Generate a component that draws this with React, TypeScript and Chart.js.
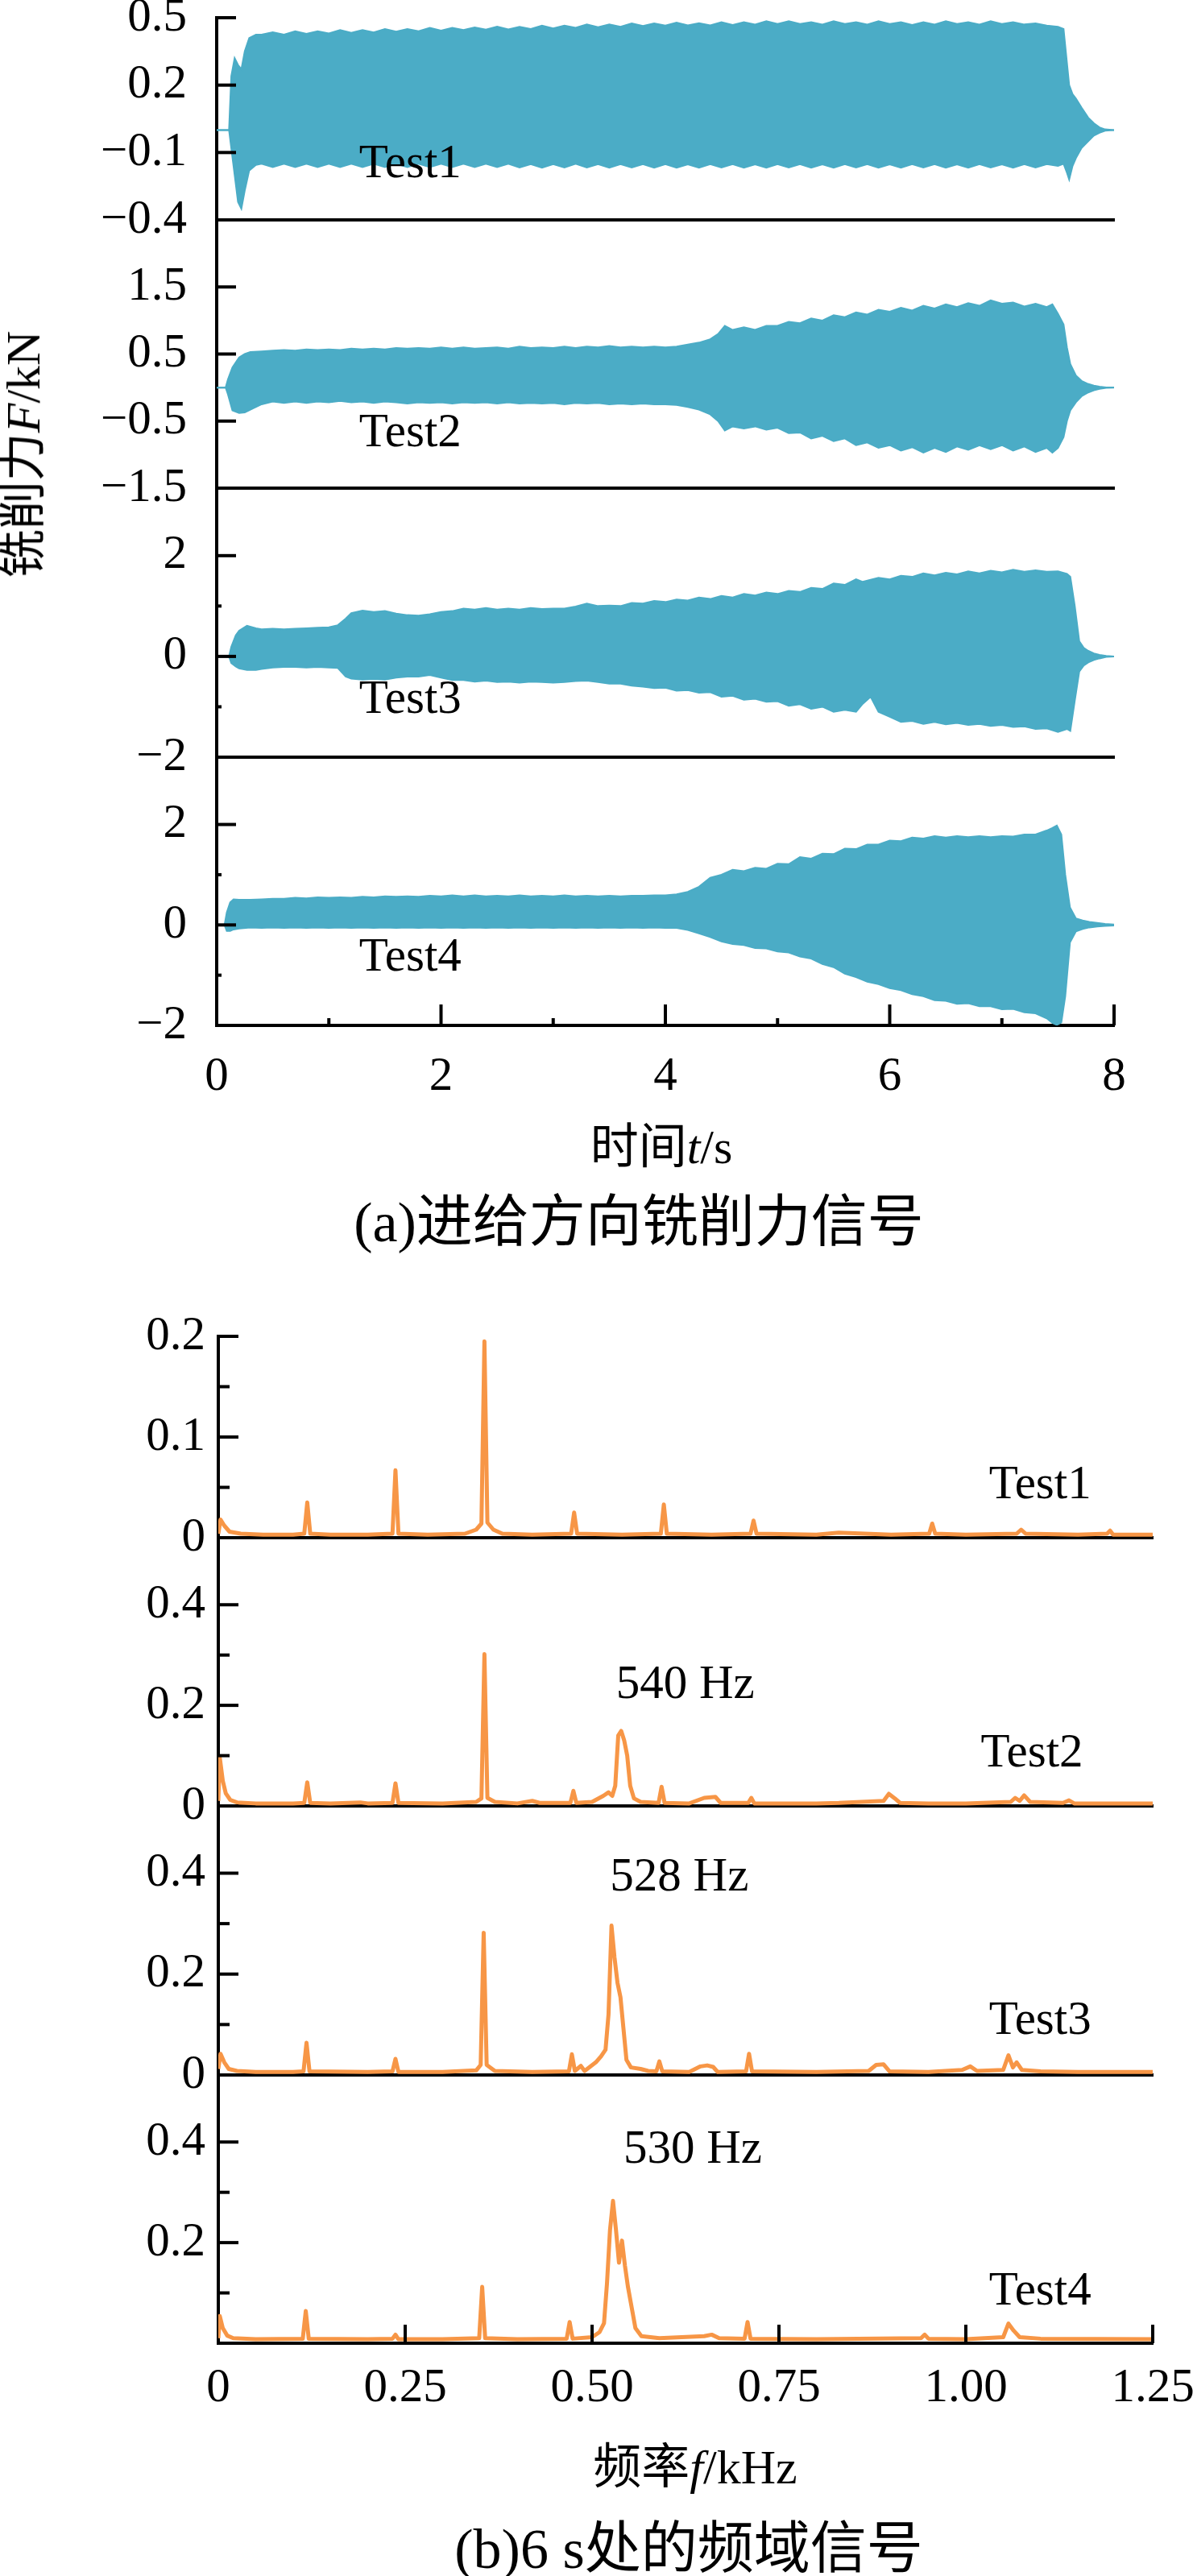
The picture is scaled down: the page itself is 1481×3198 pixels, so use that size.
import React, { useEffect, useRef } from "react";
import { Chart, registerables } from "chart.js";

Chart.register(...registerables);

const SERIF = '"Liberation Serif", "Times New Roman", serif';
const MIXED = '"Liberation Serif", "Noto Sans CJK SC", serif';
const BLUE = "#4bacc6";
const ORANGE = "#f79646";

// cutting force envelopes: [time s, upper kN, lower kN]
const test1Force = [
  [0, 0, 0], [0.11, 0, 0], [0.13, 0.24, -0.08], [0.16, 0.32, -0.2], [0.19, 0.29, -0.32],
  [0.22, 0.27, -0.35], [0.25, 0.35, -0.27], [0.29, 0.41, -0.18], [0.35, 0.425, -0.155],
  [0.4, 0.425, -0.15], [0.5, 0.435, -0.165], [0.6, 0.425, -0.15], [0.7, 0.44, -0.165],
  [0.8, 0.428, -0.15], [0.9, 0.44, -0.165], [1.0, 0.43, -0.15], [1.1, 0.445, -0.165],
  [1.2, 0.433, -0.15], [1.3, 0.445, -0.165], [1.4, 0.435, -0.15], [1.5, 0.45, -0.165],
  [1.6, 0.438, -0.15], [1.7, 0.45, -0.165], [1.8, 0.44, -0.15], [1.9, 0.455, -0.165],
  [2.0, 0.443, -0.15], [2.1, 0.455, -0.165], [2.2, 0.445, -0.15], [2.3, 0.457, -0.165],
  [2.4, 0.447, -0.15], [2.5, 0.46, -0.165], [2.6, 0.448, -0.15], [2.7, 0.46, -0.167],
  [2.8, 0.45, -0.152], [2.9, 0.465, -0.168], [3.0, 0.453, -0.152], [3.1, 0.465, -0.167],
  [3.2, 0.455, -0.15], [3.3, 0.47, -0.167], [3.4, 0.458, -0.152], [3.5, 0.47, -0.168],
  [3.6, 0.46, -0.152], [3.7, 0.475, -0.167], [3.8, 0.463, -0.152], [3.9, 0.475, -0.168],
  [4.0, 0.465, -0.152], [4.1, 0.478, -0.168], [4.2, 0.466, -0.153], [4.3, 0.476, -0.168],
  [4.4, 0.466, -0.152], [4.5, 0.48, -0.167], [4.6, 0.468, -0.152], [4.7, 0.48, -0.168],
  [4.8, 0.47, -0.153], [4.9, 0.485, -0.168], [5.0, 0.472, -0.152], [5.1, 0.485, -0.167],
  [5.2, 0.472, -0.152], [5.3, 0.48, -0.168], [5.4, 0.47, -0.153], [5.5, 0.485, -0.168],
  [5.6, 0.472, -0.152], [5.7, 0.48, -0.167], [5.8, 0.47, -0.152], [5.9, 0.485, -0.168],
  [6.0, 0.472, -0.153], [6.1, 0.48, -0.168], [6.2, 0.468, -0.152], [6.3, 0.48, -0.167],
  [6.4, 0.47, -0.152], [6.5, 0.485, -0.168], [6.6, 0.472, -0.153], [6.7, 0.48, -0.168],
  [6.8, 0.47, -0.152], [6.9, 0.485, -0.167], [7.0, 0.472, -0.153], [7.1, 0.48, -0.168],
  [7.2, 0.47, -0.152], [7.3, 0.475, -0.167], [7.4, 0.465, -0.152], [7.5, 0.46, -0.16],
  [7.55, 0.45, -0.15], [7.58, 0.3, -0.19], [7.6, 0.2, -0.22], [7.63, 0.16, -0.16],
  [7.66, 0.14, -0.125], [7.71, 0.1, -0.08], [7.77, 0.055, -0.05], [7.82, 0.03, -0.025],
  [7.87, 0.012, -0.012], [7.92, 0.003, -0.003], [8.0, 0, 0],
];

const test2Force = [
  [0, 0, 0], [0.08, 0, 0], [0.1, 0.12, -0.1], [0.14, 0.3, -0.34], [0.2, 0.45, -0.38],
  [0.25, 0.5, -0.37], [0.3, 0.53, -0.33], [0.4, 0.54, -0.25], [0.5, 0.55, -0.21],
  [0.6, 0.56, -0.23], [0.7, 0.55, -0.21], [0.8, 0.57, -0.23], [0.9, 0.56, -0.21],
  [1.0, 0.57, -0.22], [1.1, 0.56, -0.2], [1.2, 0.58, -0.22], [1.3, 0.57, -0.21],
  [1.4, 0.58, -0.23], [1.5, 0.57, -0.21], [1.6, 0.59, -0.22], [1.7, 0.58, -0.24],
  [1.8, 0.59, -0.22], [1.9, 0.58, -0.23], [2.0, 0.6, -0.22], [2.1, 0.58, -0.24],
  [2.2, 0.6, -0.22], [2.3, 0.58, -0.23], [2.4, 0.59, -0.22], [2.5, 0.6, -0.24],
  [2.6, 0.58, -0.22], [2.7, 0.61, -0.24], [2.8, 0.59, -0.23], [2.9, 0.6, -0.24],
  [3.0, 0.59, -0.23], [3.1, 0.61, -0.25], [3.2, 0.59, -0.23], [3.3, 0.61, -0.24],
  [3.4, 0.6, -0.23], [3.5, 0.62, -0.25], [3.6, 0.6, -0.24], [3.7, 0.61, -0.25],
  [3.8, 0.6, -0.24], [3.9, 0.61, -0.25], [4.0, 0.6, -0.25], [4.1, 0.61, -0.26],
  [4.2, 0.64, -0.29], [4.3, 0.67, -0.33], [4.4, 0.72, -0.4], [4.47, 0.8, -0.5],
  [4.53, 0.92, -0.64], [4.6, 0.86, -0.58], [4.7, 0.9, -0.61], [4.8, 0.86, -0.58],
  [4.9, 0.92, -0.63], [5.0, 0.92, -0.6], [5.1, 0.98, -0.68], [5.2, 0.96, -0.67],
  [5.3, 1.03, -0.76], [5.4, 1.0, -0.72], [5.5, 1.08, -0.8], [5.6, 1.05, -0.76],
  [5.7, 1.12, -0.86], [5.8, 1.09, -0.82], [5.9, 1.16, -0.9], [6.0, 1.13, -0.86],
  [6.1, 1.19, -0.94], [6.2, 1.15, -0.89], [6.3, 1.22, -0.97], [6.4, 1.18, -0.9],
  [6.5, 1.24, -0.96], [6.6, 1.2, -0.88], [6.7, 1.26, -0.93], [6.8, 1.22, -0.86],
  [6.9, 1.3, -0.92], [7.0, 1.25, -0.86], [7.1, 1.27, -0.94], [7.2, 1.21, -0.88],
  [7.3, 1.25, -0.96], [7.4, 1.2, -0.9], [7.45, 1.24, -0.97], [7.5, 1.1, -0.9],
  [7.55, 0.94, -0.74], [7.58, 0.6, -0.5], [7.61, 0.35, -0.34], [7.66, 0.18, -0.22],
  [7.71, 0.1, -0.13], [7.76, 0.06, -0.08], [7.82, 0.03, -0.04], [7.87, 0.015, -0.02],
  [7.93, 0.003, -0.004], [8.0, 0, 0],
];

const test3Force = [
  [0, 0, 0], [0.11, 0, 0], [0.13, 0.19, -0.13], [0.17, 0.42, -0.2], [0.2, 0.51, -0.24],
  [0.27, 0.61, -0.27], [0.35, 0.56, -0.27], [0.4, 0.54, -0.25], [0.5, 0.55, -0.22],
  [0.6, 0.54, -0.21], [0.7, 0.55, -0.21], [0.8, 0.56, -0.22], [0.9, 0.57, -0.21],
  [1.0, 0.58, -0.22], [1.08, 0.62, -0.23], [1.15, 0.75, -0.4], [1.2, 0.86, -0.44],
  [1.3, 0.91, -0.46], [1.4, 0.88, -0.45], [1.5, 0.9, -0.46], [1.6, 0.85, -0.42],
  [1.7, 0.82, -0.4], [1.8, 0.81, -0.4], [1.9, 0.84, -0.37], [2.0, 0.88, -0.42],
  [2.1, 0.9, -0.47], [2.2, 0.95, -0.47], [2.3, 0.93, -0.5], [2.4, 0.96, -0.48],
  [2.5, 0.93, -0.51], [2.6, 0.95, -0.5], [2.7, 0.93, -0.52], [2.8, 0.96, -0.5],
  [2.9, 0.94, -0.51], [3.0, 0.95, -0.52], [3.1, 0.95, -0.51], [3.2, 0.99, -0.49],
  [3.3, 1.05, -0.48], [3.4, 1.0, -0.51], [3.5, 1.01, -0.54], [3.6, 1.0, -0.54],
  [3.7, 1.06, -0.58], [3.8, 1.05, -0.6], [3.9, 1.1, -0.63], [4.0, 1.08, -0.62],
  [4.1, 1.13, -0.68], [4.2, 1.11, -0.67], [4.3, 1.17, -0.72], [4.4, 1.14, -0.71],
  [4.5, 1.2, -0.8], [4.6, 1.17, -0.78], [4.7, 1.24, -0.86], [4.8, 1.21, -0.84],
  [4.9, 1.27, -0.9], [5.0, 1.24, -0.89], [5.1, 1.3, -0.98], [5.2, 1.28, -0.95],
  [5.3, 1.36, -1.04], [5.4, 1.34, -1.0], [5.5, 1.45, -1.1], [5.6, 1.42, -1.06],
  [5.7, 1.53, -1.1], [5.76, 1.48, -0.94], [5.83, 1.52, -0.8], [5.9, 1.56, -1.1],
  [6.0, 1.53, -1.2], [6.1, 1.6, -1.3], [6.2, 1.58, -1.28], [6.3, 1.65, -1.34],
  [6.4, 1.61, -1.3], [6.5, 1.66, -1.35], [6.6, 1.63, -1.32], [6.7, 1.69, -1.36],
  [6.8, 1.65, -1.34], [6.9, 1.7, -1.38], [7.0, 1.67, -1.36], [7.1, 1.72, -1.4],
  [7.2, 1.68, -1.39], [7.3, 1.71, -1.44], [7.4, 1.68, -1.43], [7.5, 1.69, -1.5],
  [7.58, 1.64, -1.44], [7.61, 1.58, -1.48], [7.65, 1.0, -0.88], [7.69, 0.3, -0.3],
  [7.73, 0.17, -0.18], [7.77, 0.11, -0.12], [7.82, 0.06, -0.07], [7.87, 0.03, -0.04],
  [7.93, 0.01, -0.01], [8.0, 0, 0],
];

const test4Force = [
  [0, 0, 0], [0.07, 0, 0], [0.09, 0.25, -0.12], [0.12, 0.45, -0.12], [0.15, 0.51, -0.09],
  [0.2, 0.5, -0.07], [0.3, 0.5, -0.05], [0.4, 0.51, -0.06], [0.5, 0.52, -0.05],
  [0.6, 0.52, -0.06], [0.7, 0.54, -0.05], [0.8, 0.53, -0.06], [0.9, 0.55, -0.05],
  [1.0, 0.54, -0.06], [1.1, 0.55, -0.05], [1.2, 0.54, -0.06], [1.3, 0.56, -0.05],
  [1.4, 0.55, -0.06], [1.5, 0.57, -0.05], [1.6, 0.56, -0.06], [1.7, 0.57, -0.05],
  [1.8, 0.56, -0.06], [1.9, 0.58, -0.05], [2.0, 0.57, -0.06], [2.1, 0.59, -0.05],
  [2.2, 0.57, -0.06], [2.3, 0.59, -0.05], [2.4, 0.57, -0.06], [2.5, 0.58, -0.05],
  [2.6, 0.57, -0.06], [2.7, 0.59, -0.05], [2.8, 0.57, -0.06], [2.9, 0.58, -0.05],
  [3.0, 0.57, -0.06], [3.1, 0.59, -0.05], [3.2, 0.57, -0.06], [3.3, 0.58, -0.05],
  [3.4, 0.57, -0.06], [3.5, 0.58, -0.05], [3.6, 0.57, -0.06], [3.7, 0.58, -0.05],
  [3.8, 0.58, -0.06], [3.9, 0.59, -0.05], [4.0, 0.59, -0.06], [4.1, 0.61, -0.06],
  [4.2, 0.66, -0.1], [4.3, 0.76, -0.17], [4.4, 0.94, -0.24], [4.5, 1.0, -0.33],
  [4.6, 1.1, -0.38], [4.7, 1.07, -0.4], [4.8, 1.14, -0.46], [4.9, 1.12, -0.47],
  [5.0, 1.22, -0.53], [5.1, 1.21, -0.55], [5.2, 1.35, -0.63], [5.3, 1.32, -0.67],
  [5.4, 1.42, -0.78], [5.5, 1.41, -0.84], [5.6, 1.52, -0.97], [5.7, 1.51, -1.04],
  [5.8, 1.6, -1.13], [5.9, 1.6, -1.18], [6.0, 1.68, -1.26], [6.1, 1.67, -1.3],
  [6.2, 1.74, -1.38], [6.3, 1.72, -1.42], [6.4, 1.77, -1.5], [6.5, 1.74, -1.51],
  [6.6, 1.77, -1.57], [6.7, 1.75, -1.56], [6.8, 1.77, -1.62], [6.9, 1.75, -1.62],
  [7.0, 1.77, -1.68], [7.1, 1.76, -1.67], [7.2, 1.8, -1.74], [7.3, 1.8, -1.76],
  [7.4, 1.88, -1.86], [7.45, 1.93, -1.95], [7.49, 1.98, -1.99], [7.53, 1.8, -1.94],
  [7.565, 1.0, -1.42], [7.607, 0.35, -0.35], [7.66, 0.13, -0.13], [7.72, 0.09, -0.08],
  [7.78, 0.06, -0.05], [7.85, 0.04, -0.03], [7.92, 0.02, -0.02], [8.0, 0.01, -0.01],
];

// spectra at 6 s: [frequency kHz, amplitude]
const test1Spectrum = [
  [0, 0.004], [0.003, 0.018], [0.008, 0.012], [0.015, 0.006], [0.03, 0.004], [0.06, 0.003],
  [0.1, 0.003], [0.115, 0.004], [0.119, 0.035], [0.123, 0.004], [0.15, 0.003], [0.2, 0.003],
  [0.233, 0.004], [0.237, 0.067], [0.241, 0.004], [0.28, 0.003], [0.33, 0.004], [0.345, 0.008],
  [0.352, 0.014], [0.356, 0.195], [0.36, 0.015], [0.368, 0.008], [0.38, 0.004], [0.42, 0.003],
  [0.472, 0.004], [0.476, 0.025], [0.48, 0.004], [0.54, 0.003], [0.592, 0.004], [0.596, 0.033],
  [0.6, 0.004], [0.66, 0.003], [0.712, 0.004], [0.716, 0.017], [0.72, 0.004], [0.8, 0.003],
  [0.83, 0.005], [0.9, 0.003], [0.951, 0.004], [0.955, 0.014], [0.959, 0.004], [1.0, 0.003],
  [1.068, 0.004], [1.074, 0.008], [1.08, 0.004], [1.15, 0.003], [1.189, 0.004], [1.193, 0.007],
  [1.197, 0.003], [1.25, 0.003],
];

const test2Spectrum = [
  [0, 0.01], [0.002, 0.096], [0.006, 0.05], [0.01, 0.025], [0.016, 0.012], [0.025, 0.007],
  [0.05, 0.005], [0.1, 0.005], [0.115, 0.006], [0.119, 0.047], [0.123, 0.006], [0.15, 0.005],
  [0.19, 0.007], [0.2, 0.005], [0.233, 0.006], [0.237, 0.045], [0.241, 0.006], [0.3, 0.005],
  [0.345, 0.008], [0.352, 0.015], [0.356, 0.302], [0.36, 0.016], [0.37, 0.008], [0.4, 0.005],
  [0.42, 0.01], [0.43, 0.006], [0.471, 0.006], [0.475, 0.03], [0.479, 0.006], [0.5, 0.008],
  [0.515, 0.02], [0.522, 0.027], [0.527, 0.02], [0.531, 0.04], [0.535, 0.14], [0.539, 0.149],
  [0.543, 0.13], [0.547, 0.1], [0.551, 0.04], [0.556, 0.015], [0.565, 0.008], [0.589, 0.006],
  [0.593, 0.038], [0.597, 0.006], [0.63, 0.005], [0.65, 0.016], [0.665, 0.018], [0.672, 0.006],
  [0.709, 0.006], [0.713, 0.016], [0.717, 0.005], [0.8, 0.005], [0.83, 0.006], [0.89, 0.01],
  [0.897, 0.024], [0.905, 0.015], [0.912, 0.006], [0.95, 0.005], [1.0, 0.005], [1.06, 0.008],
  [1.066, 0.016], [1.072, 0.01], [1.078, 0.021], [1.086, 0.008], [1.13, 0.006], [1.138, 0.011],
  [1.145, 0.005], [1.25, 0.005],
];

const test3Spectrum = [
  [0, 0.012], [0.003, 0.042], [0.008, 0.025], [0.014, 0.012], [0.025, 0.008], [0.05, 0.006],
  [0.1, 0.006], [0.114, 0.007], [0.118, 0.064], [0.122, 0.007], [0.2, 0.006], [0.233, 0.007],
  [0.237, 0.032], [0.241, 0.006], [0.3, 0.006], [0.345, 0.009], [0.351, 0.02], [0.355, 0.282],
  [0.359, 0.02], [0.37, 0.008], [0.42, 0.006], [0.469, 0.007], [0.473, 0.041], [0.477, 0.008],
  [0.485, 0.018], [0.49, 0.008], [0.505, 0.025], [0.512, 0.037], [0.518, 0.05], [0.522, 0.12],
  [0.526, 0.296], [0.53, 0.233], [0.534, 0.183], [0.538, 0.154], [0.542, 0.092], [0.546, 0.03],
  [0.552, 0.015], [0.565, 0.012], [0.575, 0.008], [0.586, 0.007], [0.59, 0.027], [0.594, 0.007],
  [0.63, 0.006], [0.645, 0.017], [0.654, 0.019], [0.662, 0.016], [0.668, 0.006], [0.706, 0.007],
  [0.71, 0.042], [0.714, 0.007], [0.8, 0.006], [0.87, 0.008], [0.88, 0.02], [0.89, 0.021],
  [0.898, 0.007], [0.95, 0.006], [0.995, 0.01], [1.006, 0.017], [1.015, 0.008], [1.05, 0.01],
  [1.057, 0.039], [1.063, 0.015], [1.068, 0.025], [1.075, 0.01], [1.1, 0.007], [1.15, 0.006],
  [1.25, 0.006],
];

const test4Spectrum = [
  [0, 0.01], [0.002, 0.054], [0.006, 0.03], [0.012, 0.015], [0.02, 0.01], [0.05, 0.008],
  [0.113, 0.009], [0.117, 0.064], [0.121, 0.009], [0.2, 0.008], [0.233, 0.009], [0.237, 0.017],
  [0.241, 0.008], [0.3, 0.008], [0.349, 0.01], [0.353, 0.112], [0.357, 0.01], [0.4, 0.008],
  [0.466, 0.009], [0.47, 0.042], [0.474, 0.009], [0.5, 0.012], [0.51, 0.022], [0.516, 0.04],
  [0.52, 0.12], [0.524, 0.225], [0.528, 0.283], [0.532, 0.225], [0.536, 0.16], [0.54, 0.204],
  [0.544, 0.154], [0.548, 0.112], [0.552, 0.079], [0.558, 0.03], [0.566, 0.014], [0.59, 0.01],
  [0.65, 0.014], [0.66, 0.017], [0.67, 0.01], [0.704, 0.009], [0.708, 0.042], [0.712, 0.009],
  [0.8, 0.008], [0.94, 0.01], [0.945, 0.017], [0.95, 0.009], [1.0, 0.008], [1.05, 0.012],
  [1.057, 0.039], [1.064, 0.025], [1.072, 0.012], [1.1, 0.009], [1.25, 0.008],
];

// tick values
const timeTicks = [0, 2, 4, 6, 8];
const timeMinor = [1, 3, 5, 7];
const freqTicks = [0, 0.25, 0.5, 0.75, 1.0, 1.25];
const forceTicks1 = [-0.4, -0.1, 0.2, 0.5];
const forceTicks2 = [-1.5, -0.5, 0.5, 1.5];
const forceTicks34 = [-2, 0, 2];
const forceMinor34 = [-1, 1];
const ampTicks1 = [0, 0.1, 0.2];
const ampMinor1 = [0.05, 0.15];
const ampTicks23 = [0, 0.2, 0.4];
const ampTicks4 = [0.2, 0.4];
const ampMinor = [0.1, 0.3];

// room above/below each chart area; label padding is added to half the label height
const PAD = 90;
const AXIS_H = 130;

const signed = (v: number) => (v < 0 ? "\u2212" : "") + String(Math.abs(v));

type Note = { text: string; x: number; y: number };
type PanelProps = {
  left: number;
  right: number;
  padRight: number;
  top: number;
  bottom: number;
  xMin: number;
  xMax: number;
  xTicks: number[];
  xMinor: number[];
  xFormat: (v: number) => string;
  xLabelPad: number;
  xTickLen: number;
  xMinorLen: number;
  showX: boolean;
  yMin: number;
  yMax: number;
  yTicks: number[];
  yMinor: number[];
  yPad: number;
  yTickLen: number;
  yMinorLen: number;
  datasets: any[];
  notes: Note[];
};

const Panel: React.FC<PanelProps> = (p) => {
  const canvasRef = useRef<HTMLCanvasElement | null>(null);
  const width = p.right + p.padRight;
  const height = p.bottom - p.top + PAD + (p.showX ? AXIS_H : PAD);

  useEffect(() => {
    if (!canvasRef.current) return;
    const tickFont = { family: SERIF, size: 59 };

    const chart = new Chart(canvasRef.current, {
      type: "line",
      data: { datasets: p.datasets },
      options: {
        responsive: false,
        animation: false,
        events: [],
        layout: { padding: { left: 0, right: p.padRight, top: PAD, bottom: p.showX ? 0 : PAD } },
        plugins: { legend: { display: false }, tooltip: { enabled: false } },
        scales: {
          x: {
            type: "linear",
            min: p.xMin,
            max: p.xMax,
            afterBuildTicks: (s: any) => {
              s.ticks = p.xTicks.map((v) => ({ value: v }));
            },
            afterFit: (s: any) => {
              s.height = p.showX ? AXIS_H : 0;
            },
            grid: { display: false, drawTicks: false },
            border: { display: true, width: 4, color: "#000" },
            ticks: {
              display: p.showX,
              autoSkip: false,
              maxRotation: 0,
              padding: p.xLabelPad,
              color: "#000",
              font: tickFont,
              callback: (v: any) => p.xFormat(Number(v)),
            },
          },
          y: {
            type: "linear",
            min: p.yMin,
            max: p.yMax,
            afterBuildTicks: (s: any) => {
              s.ticks = p.yTicks.map((v) => ({ value: v }));
            },
            afterFit: (s: any) => {
              s.width = p.left;
            },
            grid: { display: false, drawTicks: false },
            border: { display: true, width: 4, color: "#000" },
            ticks: {
              autoSkip: false,
              padding: p.yPad,
              color: "#000",
              font: tickFont,
              callback: (v: any) => signed(Number(v)),
            },
          },
        },
      },
      plugins: [
        {
          id: "notes",
          afterDatasetsDraw: (c: any) => {
            const { ctx, scales } = c;
            ctx.save();
            ctx.fillStyle = "#000";
            ctx.font = `59px ${SERIF}`;
            ctx.textAlign = "left";
            ctx.textBaseline = "alphabetic";
            p.notes.forEach((n) => {
              ctx.fillText(n.text, scales.x.getPixelForValue(n.x), scales.y.getPixelForValue(n.y));
            });
            ctx.restore();
          },
        },
        {
          id: "innerTicks",
          afterDraw: (c: any) => {
            const { ctx, chartArea, scales } = c;
            ctx.save();
            ctx.strokeStyle = "#000";
            const yTick = (v: number, len: number, w: number) => {
              const y = scales.y.getPixelForValue(v);
              ctx.lineWidth = w;
              ctx.beginPath();
              ctx.moveTo(chartArea.left, y);
              ctx.lineTo(chartArea.left + len, y);
              ctx.stroke();
            };
            const xTick = (v: number, len: number, w: number) => {
              const x = scales.x.getPixelForValue(v);
              ctx.lineWidth = w;
              ctx.beginPath();
              ctx.moveTo(x, chartArea.bottom);
              ctx.lineTo(x, chartArea.bottom - len);
              ctx.stroke();
            };
            p.yTicks.forEach((v) => yTick(v, p.yTickLen, 4));
            p.yMinor.forEach((v) => yTick(v, p.yMinorLen, 4));
            if (p.showX) {
              p.xTicks.forEach((v) => v > p.xMin && xTick(v, p.xTickLen, 4));
              p.xMinor.forEach((v) => xTick(v, p.xMinorLen, 4));
            }
            ctx.restore();
          },
        },
      ],
    } as any);

    return () => {
      chart.destroy();
    };
  }, []);

  return (
    <canvas
      ref={canvasRef}
      width={width}
      height={height}
      style={{ position: "absolute", left: 0, top: p.top - PAD, width, height }}
    />
  );
};

const envelope = (rows: number[][]) => [
  {
    data: rows.map((r) => ({ x: r[0], y: r[1] })),
    borderColor: BLUE,
    backgroundColor: BLUE,
    borderWidth: 2,
    pointRadius: 0,
    fill: "+1",
  },
  {
    data: rows.map((r) => ({ x: r[0], y: r[2] })),
    borderColor: BLUE,
    backgroundColor: BLUE,
    borderWidth: 2,
    pointRadius: 0,
    fill: false,
  },
];

const spectrum = (rows: number[][]) => [
  {
    data: rows.map((r) => ({ x: r[0], y: r[1] })),
    borderColor: ORANGE,
    borderWidth: 5,
    borderJoinStyle: "round",
    pointRadius: 0,
    fill: false,
  },
];

const timeBase = {
  left: 269,
  right: 1383,
  padRight: 60,
  xMin: 0,
  xMax: 8,
  xTicks: timeTicks,
  xMinor: timeMinor,
  xFormat: (v: number) => String(v),
  xLabelPad: 29,
  xTickLen: 26,
  xMinorLen: 9,
  yPad: 37,
  yTickLen: 24,
  yMinorLen: 6,
};

const freqBase = {
  left: 271,
  right: 1431,
  padRight: 80,
  xMin: 0,
  xMax: 1.25,
  xTicks: freqTicks,
  xMinor: [] as number[],
  xFormat: (v: number) => (v === 0 ? "0" : v.toFixed(2)),
  xLabelPad: 21,
  xTickLen: 23,
  xMinorLen: 0,
  yPad: 16,
  yTickLen: 25,
  yMinorLen: 14,
};

const timePanels: PanelProps[] = [
  { ...timeBase, top: 22, bottom: 273, showX: false, yMin: -0.4, yMax: 0.5, yTicks: forceTicks1, yMinor: [],
    datasets: envelope(test1Force), notes: [{ text: "Test1", x: 1.27, y: -0.211 }] },
  { ...timeBase, top: 273, bottom: 606, showX: false, yMin: -1.5, yMax: 2.5, yTicks: forceTicks2, yMinor: [],
    datasets: envelope(test2Force), notes: [{ text: "Test2", x: 1.27, y: -0.87 }] },
  { ...timeBase, top: 606, bottom: 940, showX: false, yMin: -2, yMax: 3.34, yTicks: forceTicks34, yMinor: forceMinor34,
    datasets: envelope(test3Force), notes: [{ text: "Test3", x: 1.27, y: -1.12 }] },
  { ...timeBase, top: 940, bottom: 1273, showX: true, yMin: -2, yMax: 3.34, yTicks: forceTicks34, yMinor: forceMinor34,
    datasets: envelope(test4Force), notes: [{ text: "Test4", x: 1.27, y: -0.917 }] },
];

const freqPanels: PanelProps[] = [
  { ...freqBase, top: 1659, bottom: 1909, showX: false, yMin: 0, yMax: 0.2, yTicks: ampTicks1, yMinor: ampMinor1,
    datasets: spectrum(test1Spectrum), notes: [{ text: "Test1", x: 1.031, y: 0.039 }] },
  { ...freqBase, top: 1909, bottom: 2242, showX: false, yMin: 0, yMax: 0.5333, yTicks: ampTicks23, yMinor: ampMinor,
    datasets: spectrum(test2Spectrum),
    notes: [{ text: "Test2", x: 1.02, y: 0.078 }, { text: "540 Hz", x: 0.532, y: 0.214 }] },
  { ...freqBase, top: 2242, bottom: 2576, showX: false, yMin: 0, yMax: 0.5333, yTicks: ampTicks23, yMinor: ampMinor,
    datasets: spectrum(test3Spectrum),
    notes: [{ text: "Test3", x: 1.031, y: 0.082 }, { text: "528 Hz", x: 0.524, y: 0.365 }] },
  { ...freqBase, top: 2576, bottom: 2909, showX: true, yMin: 0, yMax: 0.5333, yTicks: ampTicks4, yMinor: ampMinor,
    datasets: spectrum(test4Spectrum),
    notes: [{ text: "Test4", x: 1.031, y: 0.077 }, { text: "530 Hz", x: 0.542, y: 0.358 }] },
];

const Text: React.FC<{ x: number; y: number; size: number; rotate?: boolean; children: React.ReactNode }> = ({
  x,
  y,
  size,
  rotate,
  children,
}) => (
  <div
    style={{
      position: "absolute",
      left: x,
      top: y,
      transform: `translate(-50%, -50%)${rotate ? " rotate(-90deg)" : ""}`,
      fontFamily: MIXED,
      fontSize: size,
      lineHeight: 1,
      whiteSpace: "nowrap",
      color: "#000",
    }}
  >
    {children}
  </div>
);

export default function App() {
  return (
    <div
      style={{
        position: "absolute",
        left: 0,
        top: 0,
        width: 1481,
        height: 3198,
        overflow: "hidden",
        background: "#fff",
      }}
    >
      {timePanels.map((p, i) => (
        <Panel key={"t" + i} {...p} />
      ))}
      {freqPanels.map((p, i) => (
        <Panel key={"f" + i} {...p} />
      ))}
      <Text x={29} y={564} size={60} rotate>
        铣削力<i>F</i>/kN
      </Text>
      <Text x={821} y={1424} size={60}>
        时间<i>t</i>/s
      </Text>
      <Text x={793} y={1518} size={70}>
        (a)进给方向铣削力信号
      </Text>
      <Text x={863} y={3063} size={60}>
        频率<i>f</i>/kHz
      </Text>
      <Text x={855} y={3165} size={70}>
        (b)6 s处的频域信号
      </Text>
    </div>
  );
}
